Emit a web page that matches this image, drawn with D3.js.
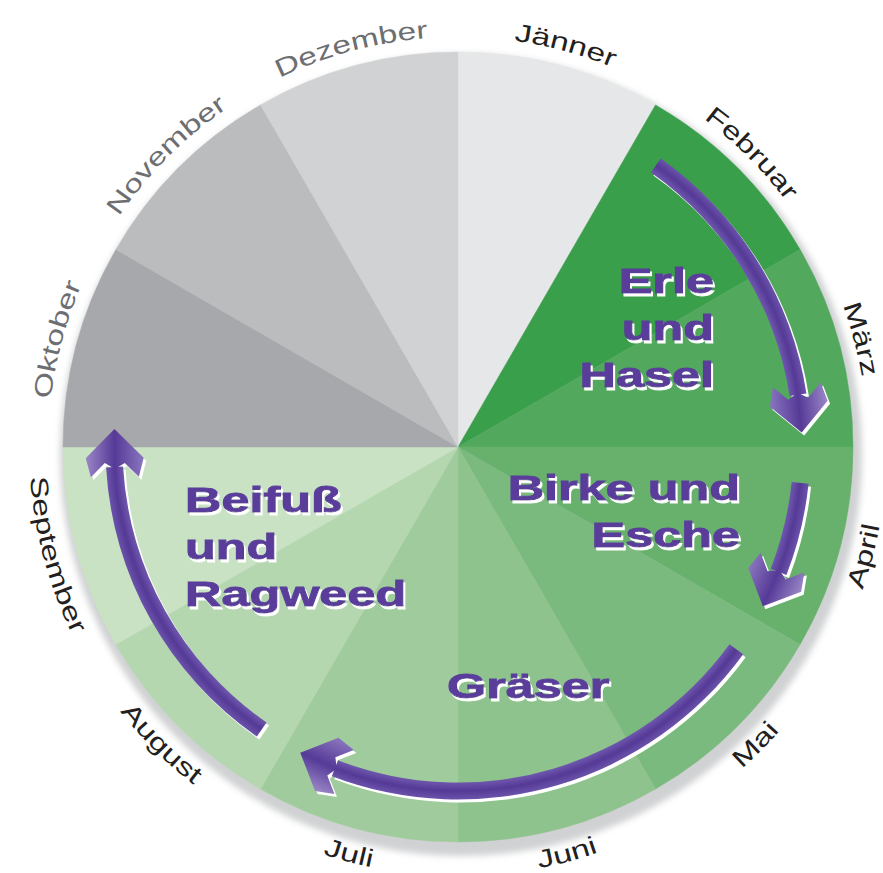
<!DOCTYPE html>
<html>
<head>
<meta charset="utf-8">
<script src="https://cdn.jsdelivr.net/npm/d3@7"></script>
<style>
	body { margin: 0; background: #fff; }
</style>
</head>
<body>
<div id="chart"></div>
<script>
// months of the pollen calendar, clockwise from the top
const months = ["Jänner", "Februar", "März", "April", "Mai", "Juni", "Juli", "August", "September", "Oktober", "November", "Dezember"];
const wedgeColors = ["#e6e7e8", "#3a9f4b", "#52a95e", "#67b16c", "#7bba7e", "#8ec38d", "#a0cc9d", "#b4d7b0", "#c8e2c3", "#a7a8ab", "#bbbcbe", "#d1d2d4"];
const monthTextColors = ["#231f20", "#231f20", "#231f20", "#231f20", "#231f20", "#231f20", "#231f20", "#231f20", "#231f20", "#6d6e71", "#6d6e71", "#6d6e71"];

// pollen seasons (in months from 1 Jänner)
const pollen = [["Erle", "und", "Hasel"], ["Birke und", "Esche"], ["Gräser"], ["Beifuß", "und", "Ragweed"]];
const pollenStart = [1.17, 3.2, 4.2, 7.16];
const pollenEnd = [2.92, 3.92, 6.91, 9.1];

const w = 883;
const h = 873;
const cx = 458;
const cy = 447;
const r = 395;
const purple = "#5a3e9b";

const svg = d3.select("#chart").append("svg").attr("width", w).attr("height", h);
const defs = svg.append("defs");

defs.append("filter").attr("id", "blur")
	.attr("x", "-10%").attr("y", "-10%").attr("width", "120%").attr("height", "120%")
	.append("feGaussianBlur").attr("stdDeviation", 3);

// white offset shadow behind the pollen names
const ws = defs.append("filter").attr("id", "whiteShadow")
	.attr("x", "-10%").attr("y", "-10%").attr("width", "130%").attr("height", "130%");
ws.append("feOffset").attr("in", "SourceAlpha").attr("dx", 2).attr("dy", 3).attr("result", "off");
ws.append("feFlood").attr("flood-color", "#fff").attr("result", "white");
ws.append("feComposite").attr("in", "white").attr("in2", "off").attr("operator", "in").attr("result", "sh");
const wm = ws.append("feMerge");
wm.append("feMergeNode").attr("in", "sh");
wm.append("feMergeNode").attr("in", "SourceGraphic");

const angle = d3.scaleLinear().domain([0, 12]).range([0, 2 * Math.PI]);
const pt = (a, rr) => [rr * Math.sin(a), -rr * Math.cos(a)];

const g = svg.append("g").attr("transform", "translate(" + cx + "," + cy + ")");

// drop shadow of the disc
g.append("circle")
	.attr("cx", 3).attr("cy", 8).attr("r", r + 6)
	.attr("fill", "#d0d1d3")
	.attr("filter", "url(#blur)");

const pie = d3.pie().value(1).sort(null);
const wedgeArc = d3.arc().innerRadius(0).outerRadius(r);

g.selectAll("path.wedge")
	.data(pie(months))
	.join("path")
	.attr("class", "wedge")
	.attr("d", wedgeArc)
	.attr("fill", (d, i) => wedgeColors[i])
	.attr("stroke", (d, i) => wedgeColors[i])
	.attr("stroke-width", 0.5);

// month labels on the rim
months.forEach((m, i) => {
	const mid = angle(i + 0.5);
	const bottom = Math.cos(mid) < 0;
	const rr = bottom ? 429 : 410;
	const p0 = pt(mid - 0.7, rr);
	const p1 = pt(mid + 0.7, rr);
	const d = bottom
		? "M" + p1 + " A" + rr + "," + rr + " 0 0 0 " + p0
		: "M" + p0 + " A" + rr + "," + rr + " 0 0 1 " + p1;
	defs.append("path").attr("id", "mp" + i).attr("d", d);
	const tp = g.append("text")
		.attr("font-family", "Liberation Sans, Arial, sans-serif")
		.attr("font-size", 25)
		.attr("fill", monthTextColors[i])
		.append("textPath")
		.attr("href", "#mp" + i)
		.attr("startOffset", "50%")
		.attr("text-anchor", "middle")
		.text(m);
	const len = tp.node().getComputedTextLength();
	tp.attr("textLength", len * 1.34).attr("lengthAdjust", "spacingAndGlyphs");
});

// arrows
const arrowR = 344;
const shaftW = 17;
const shaftArc = d3.arc().innerRadius(arrowR - shaftW / 2).outerRadius(arrowR + shaftW / 2);

const rg = defs.append("radialGradient").attr("id", "tube")
	.attr("gradientUnits", "userSpaceOnUse")
	.attr("cx", 0).attr("cy", 0).attr("r", arrowR + shaftW / 2);
const inner = (arrowR - shaftW / 2) / (arrowR + shaftW / 2);
rg.append("stop").attr("offset", inner).attr("stop-color", "#6e57ad");
rg.append("stop").attr("offset", (inner + 1) / 2).attr("stop-color", "#553996");
rg.append("stop").attr("offset", 1).attr("stop-color", "#6a53aa");

const hg = defs.append("linearGradient").attr("id", "head")
	.attr("x1", 0).attr("y1", 0).attr("x2", 0).attr("y2", 1);
hg.append("stop").attr("offset", 0).attr("stop-color", "#9a87c7");
hg.append("stop").attr("offset", 0.5).attr("stop-color", "#563a97");
hg.append("stop").attr("offset", 1).attr("stop-color", "#8a76bf");

const headPath = "M0,0 L-29,-29 L-48,-24 L-34,-10 L-40,0 L-34,10 L-48,24 L-29,29 Z";

pollen.forEach((p, i) => {
	const a0 = angle(pollenStart[i]);
	const a1 = angle(pollenEnd[i]);
	const tip = pt(a1, arrowR);
	const rot = (a1 * 180) / Math.PI - 3.5;
	const shaft = shaftArc({ startAngle: a0, endAngle: a1 - 38 / arrowR });
	[["#fff", 2.5, 3], [null, 0, 0]].forEach(([fill, dx, dy]) => {
		const ag = g.append("g").attr("transform", "translate(" + dx + "," + dy + ")");
		ag.append("path").attr("d", shaft).attr("fill", fill || "url(#tube)");
		ag.append("path")
			.attr("d", headPath)
			.attr("transform", "translate(" + tip + ") rotate(" + rot + ")")
			.attr("fill", fill || "url(#head)");
	});
});

// pollen names
const labelLayout = [
	{ x: 714, y: 293, anchor: "end" },
	{ x: 740, y: 500, anchor: "end" },
	{ x: 447, y: 698, anchor: "start" },
	{ x: 185, y: 512, anchor: "start" },
];
const stretch = 1.44;

pollen.forEach((lines, i) => {
	const L = labelLayout[i];
	svg.append("g")
		.attr("filter", "url(#whiteShadow)")
		.append("g")
		.attr("transform", "translate(" + L.x + "," + L.y + ") scale(" + stretch + ",1)")
		.append("text")
		.attr("font-family", "Liberation Sans, Arial, sans-serif")
		.attr("font-weight", "bold")
		.attr("font-size", 35)
		.attr("text-anchor", L.anchor)
		.attr("fill", purple)
		.attr("stroke", purple)
		.attr("stroke-width", 0.9)
		.selectAll("tspan")
		.data(lines)
		.join("tspan")
		.attr("x", 0)
		.attr("y", (d, j) => j * 47)
		.text((d) => d);
});
</script>
</body>
</html>
